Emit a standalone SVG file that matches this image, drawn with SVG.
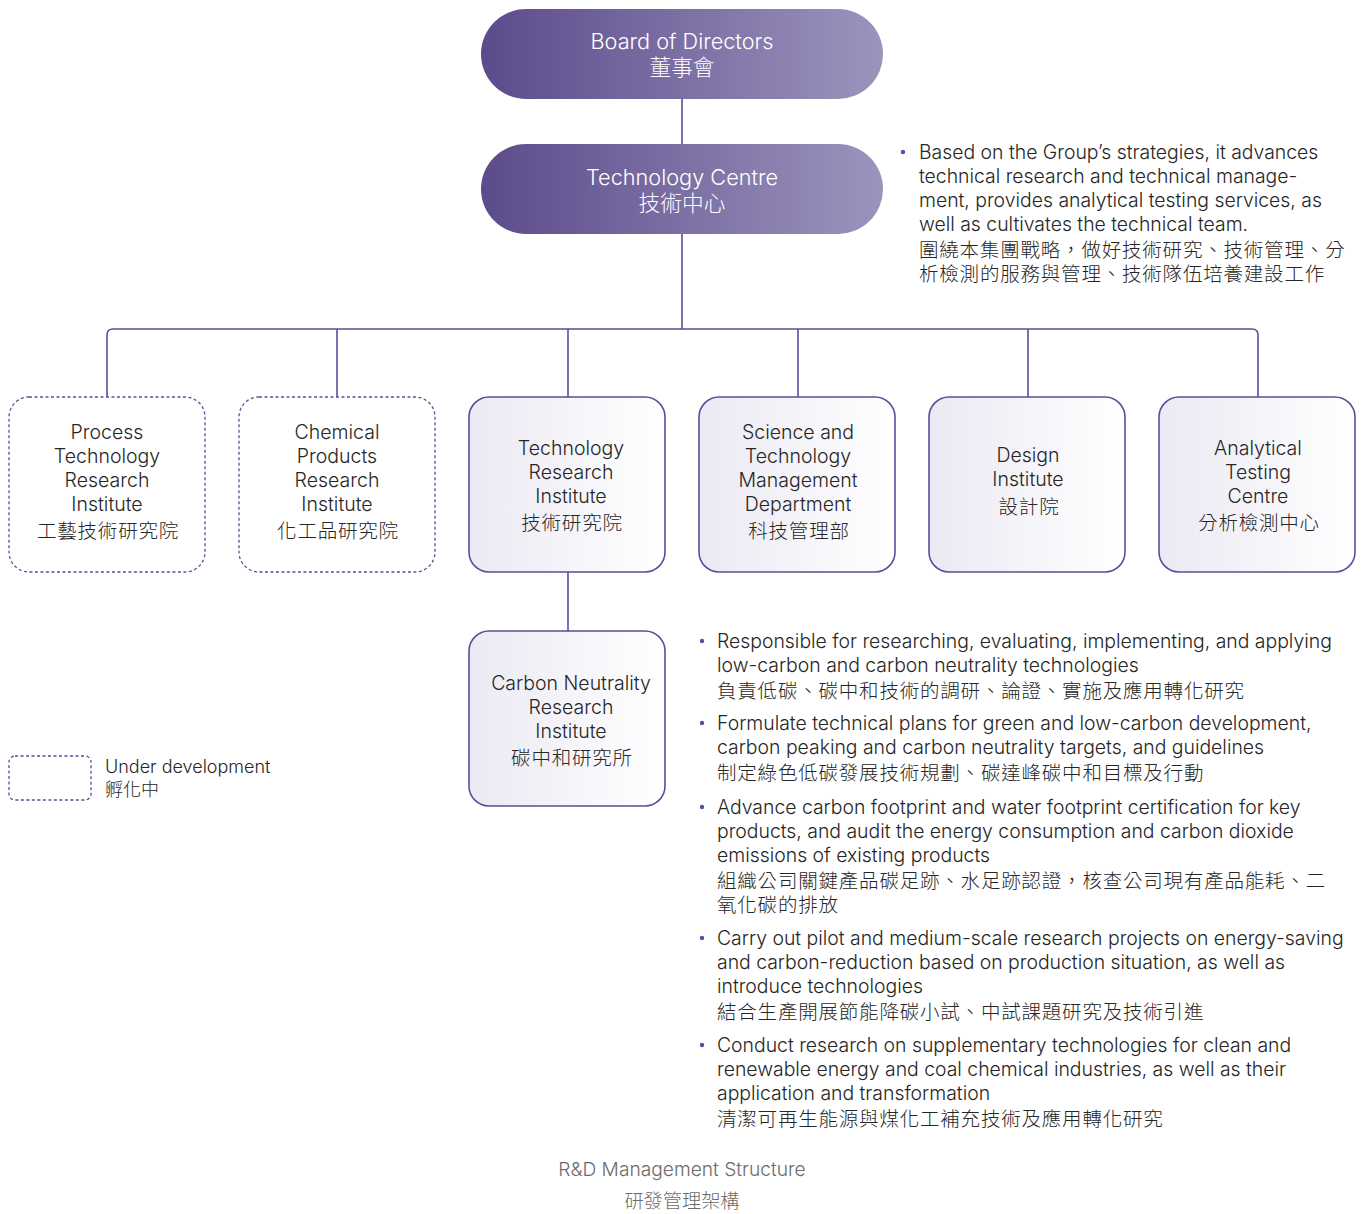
<svg xmlns="http://www.w3.org/2000/svg" width="1365" height="1214" viewBox="0 0 1365 1214">
<defs>
<linearGradient id="pill" x1="0" y1="0" x2="1" y2="0">
<stop offset="0" stop-color="#5c4b8b"/>
<stop offset="1" stop-color="#9c94bd"/>
</linearGradient>
<linearGradient id="box" x1="0" y1="0" x2="1" y2="0">
<stop offset="0" stop-color="#ebe9f3"/>
<stop offset="1" stop-color="#ffffff"/>
</linearGradient>
<style>
text{font-family:Inter,"Noto Sans CJK TC",sans-serif;font-weight:300;}
.pt{fill:#ffffff;font-size:21.7px;text-anchor:middle;}
.bt{fill:#262626;font-size:19.5px;text-anchor:middle;}
.tx{fill:#262626;font-size:19.4px;}
.cj{font-size:19.5px;letter-spacing:0.8px;}
.bul{fill:#5a4e9a;}
.cap{fill:#6b6b6b;font-size:19.2px;text-anchor:middle;}
.lg{fill:#262626;font-size:18px;}
.solid{fill:url(#box);stroke:#5a4e9a;stroke-width:1.6;}
.dash{fill:#ffffff;stroke:#5a4e9a;stroke-width:1.3;stroke-dasharray:3 2.5;}
.ln{fill:none;stroke:#5a4e9a;stroke-width:1.6;}
</style>
</defs>

<g id="connectors">
<line class="ln" x1="682" y1="99" x2="682" y2="144" stroke="#8f86b4"/>
<line class="ln" x1="682" y1="234" x2="682" y2="329"/>
<path class="ln" d="M107 397 V335 Q107 329 113 329 H1252 Q1258 329 1258 335 V397"/>
<line class="ln" x1="337" y1="329" x2="337" y2="397"/>
<line class="ln" x1="568" y1="329" x2="568" y2="397"/>
<line class="ln" x1="798" y1="329" x2="798" y2="397"/>
<line class="ln" x1="1028" y1="329" x2="1028" y2="397"/>
<line class="ln" x1="568" y1="572" x2="568" y2="631"/>
</g>

<g id="board">
<rect x="481" y="9" width="402" height="90" rx="45" fill="url(#pill)"/>
<text class="pt" x="682" y="49">Board of Directors</text>
<text class="pt" x="682" y="75">董事會</text>
</g>

<g id="techcentre">
<rect x="481" y="144" width="402" height="90" rx="45" fill="url(#pill)"/>
<text class="pt" x="682" y="185">Technology Centre</text>
<text class="pt" x="682" y="211">技術中心</text>
</g>

<g id="techcentre-desc">
<circle class="bul" cx="903" cy="152" r="2.2"/>
<text class="tx" x="919" y="159">Based on the Group’s strategies, it advances</text>
<text class="tx" x="919" y="183">technical research and technical manage-</text>
<text class="tx" x="919" y="207">ment, provides analytical testing services, as</text>
<text class="tx" x="919" y="231">well as cultivates the technical team.</text>
<text class="tx cj" x="919" y="257">圍繞本集團戰略，做好技術研究、技術管理、分</text>
<text class="tx cj" x="919" y="281">析檢測的服務與管理、技術隊伍培養建設工作</text>
</g>

<g id="process">
<rect class="dash" x="9" y="397" width="196" height="175" rx="20"/>
<text class="bt" x="107" y="439">Process</text>
<text class="bt" x="107" y="463">Technology</text>
<text class="bt" x="107" y="487">Research</text>
<text class="bt" x="107" y="511">Institute</text>
<text class="bt cj" x="108" y="538">工藝技術研究院</text>
</g>

<g id="chemical">
<rect class="dash" x="239" y="397" width="196" height="175" rx="20"/>
<text class="bt" x="337" y="439">Chemical</text>
<text class="bt" x="337" y="463">Products</text>
<text class="bt" x="337" y="487">Research</text>
<text class="bt" x="337" y="511">Institute</text>
<text class="bt cj" x="338" y="538">化工品研究院</text>
</g>

<g id="techresearch">
<rect class="solid" x="469" y="397" width="196" height="175" rx="20"/>
<text class="bt" x="571" y="455">Technology</text>
<text class="bt" x="571" y="479">Research</text>
<text class="bt" x="571" y="503">Institute</text>
<text class="bt cj" x="572" y="530">技術研究院</text>
</g>

<g id="scitech">
<rect class="solid" x="699" y="397" width="196" height="175" rx="20"/>
<text class="bt" x="798" y="439">Science and</text>
<text class="bt" x="798" y="463">Technology</text>
<text class="bt" x="798" y="487">Management</text>
<text class="bt" x="798" y="511">Department</text>
<text class="bt cj" x="799" y="538">科技管理部</text>
</g>

<g id="design">
<rect class="solid" x="929" y="397" width="196" height="175" rx="20"/>
<text class="bt" x="1028" y="462">Design</text>
<text class="bt" x="1028" y="486">Institute</text>
<text class="bt cj" x="1029" y="514">設計院</text>
</g>

<g id="analytical">
<rect class="solid" x="1159" y="397" width="196" height="175" rx="20"/>
<text class="bt" x="1258" y="455">Analytical</text>
<text class="bt" x="1258" y="479">Testing</text>
<text class="bt" x="1258" y="503">Centre</text>
<text class="bt cj" x="1259" y="530">分析檢測中心</text>
</g>

<g id="carbon">
<rect class="solid" x="469" y="631" width="196" height="175" rx="20"/>
<text class="bt" x="571" y="690">Carbon Neutrality</text>
<text class="bt" x="571" y="714">Research</text>
<text class="bt" x="571" y="738">Institute</text>
<text class="bt cj" x="572" y="765">碳中和研究所</text>
</g>

<g id="carbon-desc">
<circle class="bul" cx="702" cy="641" r="2.2"/>
<text class="tx" x="717" y="648">Responsible for researching, evaluating, implementing, and applying</text>
<text class="tx" x="717" y="672">low-carbon and carbon neutrality technologies</text>
<text class="tx cj" x="717" y="698">負責低碳、碳中和技術的調研、論證、實施及應用轉化研究</text>
<circle class="bul" cx="702" cy="723" r="2.2"/>
<text class="tx" x="717" y="730">Formulate technical plans for green and low-carbon development,</text>
<text class="tx" x="717" y="754">carbon peaking and carbon neutrality targets, and guidelines</text>
<text class="tx cj" x="717" y="780">制定綠色低碳發展技術規劃、碳達峰碳中和目標及行動</text>
<circle class="bul" cx="702" cy="807" r="2.2"/>
<text class="tx" x="717" y="814">Advance carbon footprint and water footprint certification for key</text>
<text class="tx" x="717" y="838">products, and audit the energy consumption and carbon dioxide</text>
<text class="tx" x="717" y="862">emissions of existing products</text>
<text class="tx cj" x="717" y="888">組織公司關鍵產品碳足跡、水足跡認證，核查公司現有產品能耗、二</text>
<text class="tx cj" x="717" y="912">氧化碳的排放</text>
<circle class="bul" cx="702" cy="938" r="2.2"/>
<text class="tx" x="717" y="945">Carry out pilot and medium-scale research projects on energy-saving</text>
<text class="tx" x="717" y="969">and carbon-reduction based on production situation, as well as</text>
<text class="tx" x="717" y="993">introduce technologies</text>
<text class="tx cj" x="717" y="1019">結合生產開展節能降碳小試、中試課題研究及技術引進</text>
<circle class="bul" cx="702" cy="1045" r="2.2"/>
<text class="tx" x="717" y="1052">Conduct research on supplementary technologies for clean and</text>
<text class="tx" x="717" y="1076">renewable energy and coal chemical industries, as well as their</text>
<text class="tx" x="717" y="1100">application and transformation</text>
<text class="tx cj" x="717" y="1126">清潔可再生能源與煤化工補充技術及應用轉化研究</text>
</g>

<g id="legend">
<rect class="dash" x="9" y="756" width="82" height="44" rx="6"/>
<text class="lg" x="105" y="773">Under development</text>
<text class="lg" x="105" y="796">孵化中</text>
</g>

<g id="caption">
<text class="cap" x="682" y="1176">R&amp;D Management Structure</text>
<text class="cap" x="682" y="1208">研發管理架構</text>
</g>
</svg>
